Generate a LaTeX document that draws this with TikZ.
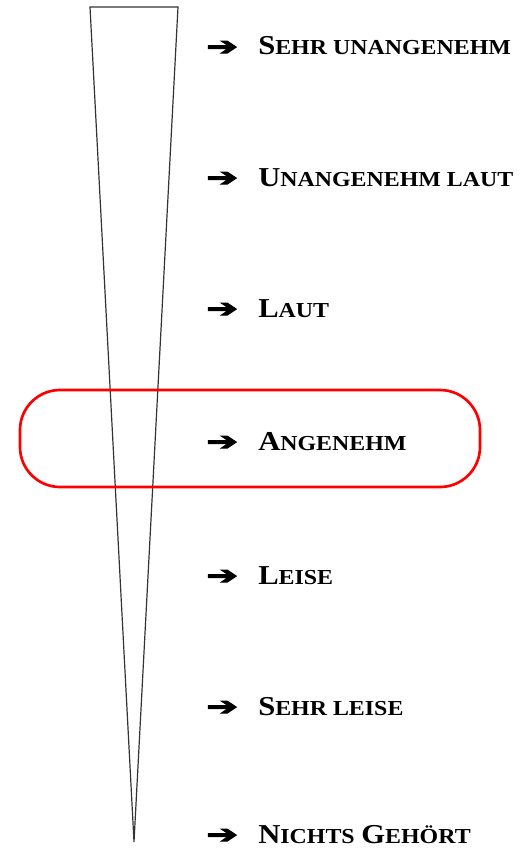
\documentclass[tikz,border=0pt]{standalone}
\usepackage{fontspec}
\setmainfont{Liberation Serif}
\newfontfamily\labelfont[FakeStretch=1.12]{Liberation Serif}
\newfontfamily\arrowfont[FakeStretch=1.5, FakeBold=4]{DejaVu Sans}
\usepackage{xcolor}
\usetikzlibrary{positioning}

% small caps by hand: big first letter, smaller capitals after it
\newcommand{\capsword}[2]{{\fontsize{20.5}{22}\selectfont #1}{\fontsize{16}{18}\selectfont #2}}

\begin{document}
\begin{tikzpicture}[x=0.75pt, y=-0.75pt,
    level/.style={anchor=base west, inner sep=0pt, font=\labelfont\bfseries},
    pointer/.style={anchor=base west, inner sep=0pt, font=\arrowfont\fontsize{19}{20}\selectfont},
    cone/.style={draw=black!80, line width=0.9pt, line join=miter},
  ]
\useasboundingbox (0,0) rectangle (519,849);

  % the cone
  \coordinate (tl) at (90,7);
  \coordinate (tr) at (178,7);
  \coordinate (tip) at (134,842);
  \draw[cone] (tip) -- (tl) -- (tr) -- cycle;

  % arrows
  \node[pointer] (p1) at (206,55)  {➔};
  \node[pointer] (p2) at (206,186) {➔};
  \node[pointer] (p3) at (206,317) {➔};
  \node[pointer] (p4) at (206,450) {➔};
  \node[pointer] (p5) at (206,584) {➔};
  \node[pointer] (p6) at (206,715) {➔};
  \node[pointer] (p7) at (206,843) {➔};

  % labels
  \node[level] (sehrunang) at (258,55)  {\capsword{S}{EHR UNANGENEHM}};
  \node[level] (unanglaut) at (258,186) {\capsword{U}{NANGENEHM LAUT}};
  \node[level] (laut)      at (258,317) {\capsword{L}{AUT}};
  \node[level] (angenehm)  at (258,450) {\capsword{A}{NGENEHM}};
  \node[level] (leise)     at (258,584) {\capsword{L}{EISE}};
  \node[level] (sehrleise) at (258,715) {\capsword{S}{EHR LEISE}};
  \node[level] (nichts)    at (258,843) {\capsword{N}{ICHTS}\hspace{5pt}\capsword{G}{EHÖRT}};

  % the marked level
  \draw[red, line width=2pt, rounded corners=30] (20,390) rectangle (480,487);

\end{tikzpicture}
\end{document}
